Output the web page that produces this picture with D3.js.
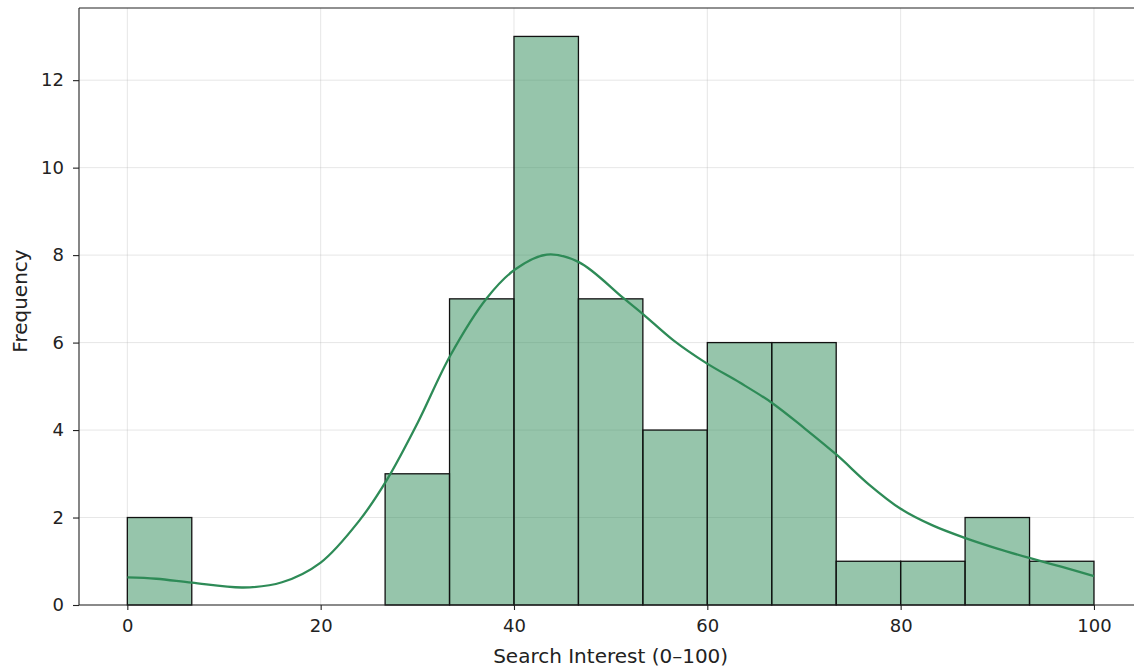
<!DOCTYPE html>
<html>
<head>
<meta charset="utf-8">
<script src="https://cdn.jsdelivr.net/npm/d3@7"></script>
<style>
  body { margin: 0; background: #fff; }
  svg { display: block; font-family: "DejaVu Sans", sans-serif; }
  .grid line { stroke: #b0b0b0; stroke-opacity: 0.4; stroke-width: 0.8; }
  .axis line, .axis path { stroke: #222; stroke-width: 1.1; }
</style>
</head>
<body>
<svg id="chart" width="1134" height="670"></svg>
<script>
  // histogram bins (edges) and counts
  var binEdges = [0, 6.667, 13.333, 20, 26.667, 33.333, 40, 46.667, 53.333, 60, 66.667, 73.333, 80, 86.667, 93.333, 100];
  var binCounts = [2, 0, 0, 0, 3, 7, 13, 7, 4, 6, 6, 1, 1, 2, 1];

  // kde curve
  var kdeX = [0, 3, 6.67, 12, 16, 20, 24, 26.85, 30, 33.4, 37.2, 40.1, 43.4, 46.7, 51.3, 53.4, 56.5, 59.9, 63.4, 66.7, 70, 73.4, 76.7, 80, 83.3, 86.7, 90, 93.4, 96.7, 100];
  var kdeY = [0.63, 0.60, 0.51, 0.40, 0.52, 0.97, 1.93, 2.86, 4.15, 5.70, 7.02, 7.67, 8.01, 7.84, 7.02, 6.64, 6.05, 5.53, 5.08, 4.62, 4.05, 3.43, 2.76, 2.20, 1.82, 1.53, 1.29, 1.07, 0.87, 0.66];

  var xTicks = [0, 20, 40, 60, 80, 100];
  var yTicks = [0, 2, 4, 6, 8, 10, 12];

  var svg = d3.select('#chart'),
      margin = {top: 8, left: 79, bottom: 65},
      plotW = 1142.3 - margin.left,
      plotH = 670 - margin.top - margin.bottom,
      g = svg.append('g').attr('transform', 'translate(' + margin.left + ',' + margin.top + ')');

  var x = d3.scaleLinear().domain([-5, 105]).range([0, plotW]);
  var y = d3.scaleLinear().domain([0, 13.65]).range([plotH, 0]);

  // grid
  var grid = g.append('g').attr('class', 'grid');
  grid.selectAll('.gx').data(xTicks).enter().append('line')
      .attr('x1', function (d) { return x(d); })
      .attr('x2', function (d) { return x(d); })
      .attr('y1', 0).attr('y2', plotH);
  grid.selectAll('.gy').data(yTicks).enter().append('line')
      .attr('x1', 0).attr('x2', plotW)
      .attr('y1', function (d) { return y(d); })
      .attr('y2', function (d) { return y(d); });

  // bars
  var bins = binCounts.map(function (c, i) {
    return {x0: binEdges[i], x1: binEdges[i + 1], count: c};
  }).filter(function (d) { return d.count > 0; });

  g.append('g').selectAll('rect').data(bins).enter().append('rect')
      .attr('x', function (d) { return x(d.x0); })
      .attr('width', function (d) { return x(d.x1) - x(d.x0); })
      .attr('y', function (d) { return y(d.count); })
      .attr('height', function (d) { return y(0) - y(d.count); })
      .attr('fill', '#2e8b57')
      .attr('fill-opacity', 0.5)
      .attr('stroke', '#111')
      .attr('stroke-width', 1.3);

  // kde line
  var line = d3.line()
      .x(function (d) { return x(d[0]); })
      .y(function (d) { return y(d[1]); })
      .curve(d3.curveCatmullRom.alpha(0.5));

  g.append('path')
      .datum(d3.zip(kdeX, kdeY))
      .attr('d', line)
      .attr('fill', 'none')
      .attr('stroke', '#2e8b57')
      .attr('stroke-width', 2.3);

  // axes
  var xAxisG = g.append('g').attr('class', 'axis')
      .attr('transform', 'translate(0,' + plotH + ')')
      .call(d3.axisBottom(x).tickValues(xTicks).tickSize(5).tickPadding(9).tickSizeOuter(0));
  var yAxisG = g.append('g').attr('class', 'axis')
      .call(d3.axisLeft(y).tickValues(yTicks).tickSize(6).tickPadding(9).tickSizeOuter(0));

  [xAxisG, yAxisG].forEach(function (a) {
    a.select('.domain').remove();
    a.selectAll('text')
        .style('font-family', '"DejaVu Sans", sans-serif')
        .style('font-size', '18px')
        .style('fill', '#222');
  });

  // spines
  var spines = g.append('g').attr('fill', 'none').attr('stroke', '#222').attr('stroke-width', 1.1);
  spines.append('line').attr('x1', 0).attr('x2', 0).attr('y1', 0).attr('y2', plotH);
  spines.append('line').attr('x1', 0).attr('x2', plotW).attr('y1', 0).attr('y2', 0);
  spines.append('line').attr('x1', 0).attr('x2', plotW).attr('y1', plotH).attr('y2', plotH);
  spines.append('line').attr('x1', plotW).attr('x2', plotW).attr('y1', 0).attr('y2', plotH);

  // axis titles
  svg.append('text')
      .attr('x', margin.left + x(50))
      .attr('y', 663)
      .attr('text-anchor', 'middle')
      .style('font-size', '20px')
      .style('fill', '#222')
      .text('Search Interest (0–100)');

  svg.append('text')
      .attr('transform', 'translate(27,301) rotate(-90)')
      .attr('text-anchor', 'middle')
      .style('font-size', '20px')
      .style('fill', '#222')
      .text('Frequency');
</script>
</body>
</html>
